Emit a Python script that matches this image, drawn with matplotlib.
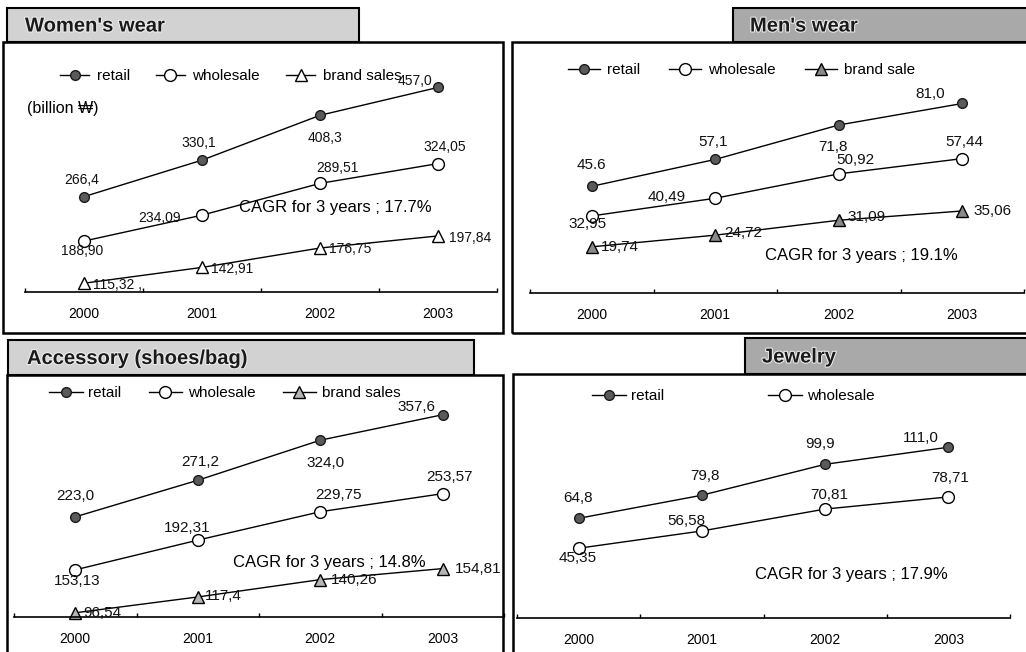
import matplotlib
matplotlib.use("Agg")
import matplotlib.pyplot as plt
from matplotlib.patches import Rectangle
import matplotlib.patheffects as pe

# ---------------- data ----------------
years = ["2000", "2001", "2002", "2003"]

women_retail = [266.4, 330.1, 408.3, 457.0]
women_wholesale = [188.90, 234.09, 289.51, 324.05]
women_brand = [115.32, 142.91, 176.75, 197.84]

men_retail = [45.6, 57.1, 71.8, 81.0]
men_wholesale = [32.95, 40.49, 50.92, 57.44]
men_brand = [19.74, 24.72, 31.09, 35.06]

acc_retail = [223.0, 271.2, 324.0, 357.6]
acc_wholesale = [153.13, 192.31, 229.75, 253.57]
acc_brand = [96.54, 117.4, 140.26, 154.81]

jew_retail = [64.8, 79.8, 99.9, 111.0]
jew_wholesale = [45.35, 56.58, 70.81, 78.71]

women_retail_lbl = ["266,4", "330,1", "408,3", "457,0"]
women_wholesale_lbl = ["188,90", "234,09", "289,51", "324,05"]
women_brand_lbl = ["115,32 ,", "142,91", "176,75", "197,84"]
men_retail_lbl = ["45.6", "57,1", "71,8", "81,0"]
men_wholesale_lbl = ["32,95", "40,49", "50,92", "57,44"]
men_brand_lbl = ["19,74", "24,72", "31,09", "35,06"]
acc_retail_lbl = ["223,0", "271,2", "324,0", "357,6"]
acc_wholesale_lbl = ["153,13", "192,31", "229,75", "253,57"]
acc_brand_lbl = ["96,54", "117,4", "140,26", "154,81"]
jew_retail_lbl = ["64,8", "79,8", "99,9", "111,0"]
jew_wholesale_lbl = ["45,35", "56,58", "70,81", "78,71"]

titles = ["Women's wear", "Men's wear", "Accessory (shoes/bag)", "Jewelry"]
cagr_texts = ["CAGR for 3 years ; 17.7%", "CAGR for 3 years ; 19.1%",
              "CAGR for 3 years ; 14.8%", "CAGR for 3 years ; 17.9%"]
unit_text = "(billion \u20a9)"

# ---------------- layout / style ----------------
W, H = 1026, 652
fig = plt.figure(figsize=(W / 100, H / 100), dpi=100)
fig.patch.set_facecolor("white")

NUM_FONT = ["Liberation Sans Narrow", "Liberation Sans", "DejaVu Sans"]
TXT_FONT = ["Liberation Sans", "DejaVu Sans"]


def fx(x):
    return x / W


def fy(y):
    return 1 - y / H


def add_rect(x0, y0, x1, y1, fc="none", lw=1.8, z=1):
    r = Rectangle((fx(x0), fy(y1)), (x1 - x0) / W, (y1 - y0) / H,
                  transform=fig.transFigure, facecolor=fc, edgecolor="black",
                  linewidth=lw, zorder=z)
    fig.add_artist(r)


def make_axes(x0, y0, x1, y1, ylim):
    ax = fig.add_axes([fx(x0), fy(y1), (x1 - x0) / W, (y1 - y0) / H])
    ax.set_facecolor("none")
    ax.set_xlim(-0.5, 3.5)
    ax.set_ylim(*ylim)
    for s in ["left", "right", "top"]:
        ax.spines[s].set_visible(False)
    ax.spines["bottom"].set_linewidth(1.2)
    ax.set_yticks([])
    ax.set_xticks(range(len(years)))
    ax.set_xticklabels(years, fontsize=10, family=TXT_FONT)
    ax.set_xticks([-0.5, 0.5, 1.5, 2.5, 3.5], minor=True)
    ax.tick_params(axis="x", which="major", length=0, pad=10.5)
    ax.tick_params(axis="x", which="minor", direction="in", length=3, width=1)
    return ax


RETAIL_STYLE = dict(marker="o", markersize=7, markerfacecolor="#5a5a5a",
                    markeredgecolor="#1a1a1a", color="black", lw=1.0)
WHOLE_STYLE = dict(marker="o", markersize=8.5, markerfacecolor="white",
                   markeredgecolor="black", color="black", lw=1.0)


def brand_style(fc):
    return dict(marker="^", markersize=8.5, markerfacecolor=fc,
                markeredgecolor="black", color="black", lw=1.0)


def annotate(ax, values, labels, offsets, size):
    ha_map = {"c": "center", "l": "left", "r": "right"}
    for i, (v, t) in enumerate(zip(values, labels)):
        dx, dy, a = offsets[i]
        ax.annotate(t, (i, v), xytext=(dx, -dy), textcoords="offset pixels",
                    ha=ha_map[a], va="center", fontsize=size, family=NUM_FONT,
                    color="#111111", annotation_clip=False, zorder=5)


def title_tab(x0, y0, x1, y1, fc, text, tx):
    add_rect(x0, y0, x1, y1, fc=fc, lw=1.5, z=2)
    fig.text(fx(tx), fy((y0 + y1) / 2 + 1), text, fontsize=14.5,
             fontweight="bold", family=TXT_FONT, ha="left", va="center",
             color="#1a1a1a", zorder=3,
             path_effects=[pe.withStroke(linewidth=1.5, foreground="#eeeeee")])


x = list(range(len(years)))

# ---------------- Women's wear ----------------
add_rect(3, 42, 503, 333)
title_tab(7, 8, 359, 42, "#d2d2d2", titles[0], 25)
ax = make_axes(25, 45, 497, 292, (100, 531))
l1, = ax.plot(x, women_retail, label="retail", clip_on=False, **RETAIL_STYLE)
l2, = ax.plot(x, women_wholesale, label="wholesale", clip_on=False, **WHOLE_STYLE)
l3, = ax.plot(x, women_brand, label="brand sales", clip_on=False, **brand_style("white"))
annotate(ax, women_retail, women_retail_lbl,
         [(-2, -17, "c"), (-3, -17, "c"), (5, 23, "c"), (-23, -6, "c")], 10)
annotate(ax, women_wholesale, women_wholesale_lbl,
         [(-2, 10, "c"), (-21, 3, "r"), (17, -15, "c"), (7, -17, "c")], 10)
annotate(ax, women_brand, women_brand_lbl,
         [(9, 2, "l"), (9, 2, "l"), (9, 1, "l"), (11, 2, "l")], 10)
ax.legend(handles=[l1, l2, l3], loc="center left", ncol=3, frameon=False,
          bbox_to_anchor=(fx(60), fy(76)), bbox_transform=fig.transFigure,
          borderpad=0, borderaxespad=0, handlelength=1.9, handletextpad=0.5,
          columnspacing=1.7, prop={"family": TXT_FONT, "size": 11})
fig.text(fx(27), fy(108), unit_text, fontsize=11.5, family=TXT_FONT,
         ha="left", va="center")
fig.text(fx(335), fy(207), cagr_texts[0], fontsize=12, family=TXT_FONT,
         ha="center", va="center")

# ---------------- Men's wear ----------------
add_rect(512, 42, 1032, 333)
title_tab(733, 8, 1032, 42, "#a9a9a9", titles[1], 750)
ax = make_axes(530, 45, 1024, 293, (0, 106))
l1, = ax.plot(x, men_retail, label="retail", clip_on=False, **RETAIL_STYLE)
l2, = ax.plot(x, men_wholesale, label="wholesale", clip_on=False, **WHOLE_STYLE)
l3, = ax.plot(x, men_brand, label="brand sale", clip_on=False, **brand_style("#8a8a8a"))
annotate(ax, men_retail, men_retail_lbl,
         [(0, -21, "c"), (-2, -17, "c"), (-6, 22, "c"), (-32, -9, "c")], 11)
annotate(ax, men_wholesale, men_wholesale_lbl,
         [(-4, 8, "c"), (-29, -1, "r"), (17, -14, "c"), (2, -17, "c")], 11)
annotate(ax, men_brand, men_brand_lbl,
         [(9, 0, "l"), (9, -2, "l"), (9, -3, "l"), (11, 0, "l")], 11)
ax.legend(handles=[l1, l2, l3], loc="center left", ncol=3, frameon=False,
          bbox_to_anchor=(fx(568), fy(70)), bbox_transform=fig.transFigure,
          borderpad=0, borderaxespad=0, handlelength=2.1, handletextpad=0.45,
          columnspacing=1.9, prop={"family": TXT_FONT, "size": 11})
fig.text(fx(861), fy(255), cagr_texts[1], fontsize=12, family=TXT_FONT,
         ha="center", va="center")

# ---------------- Accessory ----------------
add_rect(7, 375, 503, 660)
title_tab(8, 340, 474, 375, "#d2d2d2", titles[2], 27)
ax = make_axes(14, 378, 504, 617, (91, 406))
l1, = ax.plot(x, acc_retail, label="retail", clip_on=False, **RETAIL_STYLE)
l2, = ax.plot(x, acc_wholesale, label="wholesale", clip_on=False, **WHOLE_STYLE)
l3, = ax.plot(x, acc_brand, label="brand sales", clip_on=False, **brand_style("#b5b5b5"))
annotate(ax, acc_retail, acc_retail_lbl,
         [(0, -21, "c"), (3, -18, "c"), (5, 23, "c"), (-26, -8, "c")], 11)
annotate(ax, acc_wholesale, acc_wholesale_lbl,
         [(2, 11, "c"), (-11, -12, "c"), (18, -17, "c"), (7, -17, "c")], 11)
annotate(ax, acc_brand, acc_brand_lbl,
         [(8, 0, "l"), (7, -1, "l"), (11, 0, "l"), (12, 0, "l")], 11)
ax.legend(handles=[l1, l2, l3], loc="center left", ncol=3, frameon=False,
          bbox_to_anchor=(fx(49), fy(393)), bbox_transform=fig.transFigure,
          borderpad=0, borderaxespad=0, handlelength=2.2, handletextpad=0.35,
          columnspacing=1.8, prop={"family": TXT_FONT, "size": 11})
fig.text(fx(329), fy(563), cagr_texts[2], fontsize=12, family=TXT_FONT,
         ha="center", va="center")

# ---------------- Jewelry ----------------
add_rect(513, 374, 1032, 660)
title_tab(745, 338, 1032, 374, "#a9a9a9", titles[3], 762)
ax = make_axes(517, 378, 1010, 618, (0, 156))
l1, = ax.plot(x, jew_retail, label="retail", clip_on=False, **RETAIL_STYLE)
l2, = ax.plot(x, jew_wholesale, label="wholesale", clip_on=False, **WHOLE_STYLE)
annotate(ax, jew_retail, jew_retail_lbl,
         [(-1, -20, "c"), (3, -19, "c"), (-5, -20, "c"), (-28, -9, "c")], 11)
annotate(ax, jew_wholesale, jew_wholesale_lbl,
         [(-1, 10, "c"), (-15, -10, "c"), (4, -14, "c"), (2, -19, "c")], 11)
ax.legend(handles=[l1, l2], loc="center left", ncol=2, frameon=False,
          bbox_to_anchor=(fx(592), fy(396)), bbox_transform=fig.transFigure,
          borderpad=0, borderaxespad=0, handlelength=2.2, handletextpad=0.35,
          columnspacing=6.8, prop={"family": TXT_FONT, "size": 11})
fig.text(fx(851), fy(575), cagr_texts[3], fontsize=12, family=TXT_FONT,
         ha="center", va="center")

fig.savefig("out.png", dpi=100)
